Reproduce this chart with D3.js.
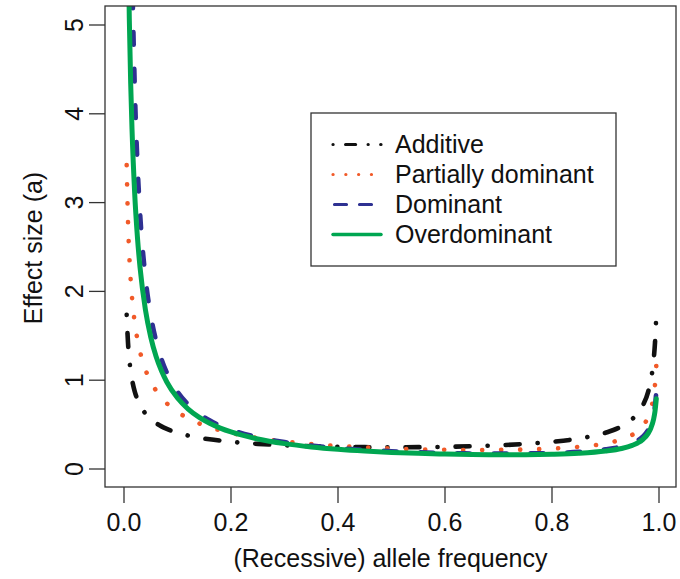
<!DOCTYPE html>
<html><head><meta charset="utf-8">
<script src="https://cdn.jsdelivr.net/npm/d3@7"></script>
<style>
body{margin:0;background:#fff}
svg{display:block}
text{font-family:"Liberation Sans",Arial,Helvetica,sans-serif;fill:#111}
</style>
</head><body><svg id="c" width="680" height="579"></svg>
<script>
// ---- data ----
const freq = [0.005,0.0075,0.01,0.0125,0.015,0.02,0.025,0.03,0.04,0.05,0.06,0.07,0.08,0.1,0.12,0.14,0.16,0.18,0.2,0.25,0.3,0.35,0.4,0.45,0.5,0.55,0.6,0.65,0.7,0.75,0.8,0.85,0.9,0.93,0.95,0.96,0.97,0.98,0.985,0.99,0.9925,0.995];
const additive = [1.736,1.420,1.231,1.102,1.008,0.875,0.785,0.718,0.625,0.562,0.516,0.480,0.451,0.408,0.377,0.353,0.334,0.319,0.306,0.283,0.267,0.257,0.250,0.246,0.245,0.246,0.250,0.257,0.267,0.283,0.306,0.343,0.408,0.480,0.562,0.625,0.718,0.875,1.008,1.231,1.420,1.736];
const partiallyDominant = [3.422,2.777,2.391,2.126,1.930,1.653,1.462,1.321,1.121,0.984,0.882,0.803,0.739,0.642,0.570,0.515,0.471,0.435,0.406,0.349,0.310,0.281,0.259,0.243,0.231,0.222,0.217,0.214,0.215,0.220,0.230,0.250,0.288,0.333,0.385,0.426,0.487,0.590,0.677,0.825,0.950,1.161];
const dominant = [17.32,11.55,8.661,6.929,5.774,4.331,3.465,2.888,2.167,1.734,1.446,1.240,1.086,0.870,0.727,0.625,0.548,0.489,0.442,0.358,0.303,0.264,0.236,0.216,0.200,0.189,0.180,0.175,0.173,0.175,0.180,0.193,0.221,0.253,0.292,0.322,0.367,0.444,0.510,0.620,0.714,0.872];
const overdominant = [7.790,6.077,5.047,4.342,3.824,3.102,2.618,2.268,1.794,1.485,1.267,1.106,0.980,0.799,0.675,0.584,0.515,0.461,0.417,0.338,0.286,0.249,0.222,0.202,0.187,0.176,0.168,0.162,0.160,0.161,0.166,0.177,0.202,0.231,0.266,0.293,0.334,0.404,0.464,0.564,0.649,0.792];
const seriesNames = ["Additive","Partially dominant","Dominant","Overdominant"];
const xTicks = [0,0.2,0.4,0.6,0.8,1.0];
const yTicks = [0,1,2,3,4,5];
const xTitle = "(Recessive) allele frequency";
const yTitle = "Effect size (a)";

// ---- styles ----
const styles = [
  {color:"#111111", dash:"0.1,18,14,18", w:4.6, ldash:"0.1,12.5,10,12.5"},
  {color:"#f15a29", dash:"0.1,18.9", w:4.6, ldash:"0.1,12.7"},
  {color:"#2e3192", dash:"12.7,24", w:4.6, ldash:"12,13"},
  {color:"#00a651", dash:null, w:5, ldash:null}
];
const seriesValues = [additive, partiallyDominant, dominant, overdominant];

const svg = d3.select("#c");
const box = {l:105, r:676, t:6, b:487};
const x = d3.scaleLinear().domain([0,1]).range([124,659]);
const y = d3.scaleLinear().domain([0,5]).range([469,25]);
const fs = 25;

svg.append("defs").append("clipPath").attr("id","clip")
  .append("rect").attr("x",box.l).attr("y",box.t).attr("width",box.r-box.l).attr("height",box.b-box.t);

// lines
const line = d3.line().x(d=>x(d[0])).y(d=>y(d[1])).curve(d3.curveMonotoneX);
const g = svg.append("g").attr("clip-path","url(#clip)");
seriesValues.forEach((vals,i)=>{
  const pts = freq.map((f,j)=>[f, vals[j]]);
  const p = g.append("path").attr("d", line(pts))
    .attr("fill","none").attr("stroke",styles[i].color)
    .attr("stroke-width",styles[i].w).attr("stroke-linecap","round").attr("stroke-linejoin","round");
  if (styles[i].dash) p.attr("stroke-dasharray", styles[i].dash);
});

// box
svg.append("rect").attr("x",box.l).attr("y",box.t).attr("width",box.r-box.l).attr("height",box.b-box.t)
  .attr("fill","none").attr("stroke","#333").attr("stroke-width",1.3);

// x axis
const xa = svg.append("g");
xTicks.forEach(t=>{
  xa.append("line").attr("x1",x(t)).attr("x2",x(t)).attr("y1",box.b).attr("y2",box.b+16).attr("stroke","#333").attr("stroke-width",1.3);
  xa.append("text").attr("x",x(t)).attr("y",531).attr("text-anchor","middle").attr("font-size",fs).text(d3.format(".1f")(t));
});
svg.append("text").attr("x",(box.l+box.r)/2).attr("y",567).attr("text-anchor","middle").attr("font-size",fs).text(xTitle);

// y axis
const ya = svg.append("g");
yTicks.forEach(t=>{
  ya.append("line").attr("x1",box.l-16).attr("x2",box.l).attr("y1",y(t)).attr("y2",y(t)).attr("stroke","#333").attr("stroke-width",1.3);
  ya.append("text").attr("transform",`translate(83,${y(t)}) rotate(-90)`).attr("text-anchor","middle").attr("font-size",fs).text(d3.format("d")(t));
});
svg.append("text").attr("transform",`translate(42,248) rotate(-90)`).attr("text-anchor","middle").attr("font-size",fs).text(yTitle);

// legend
const lg = svg.append("g");
lg.append("rect").attr("x",311).attr("y",113).attr("width",305).attr("height",153).attr("fill","#fff").attr("stroke","#333").attr("stroke-width",1.3);
seriesNames.forEach((n,i)=>{
  const by = 153 + i*30;
  const ly = by - 8.5;
  const x1 = i===2 ? 334.5 : 333;
  const l = lg.append("line").attr("x1",x1).attr("x2",381).attr("y1",ly).attr("y2",ly)
    .attr("stroke",styles[i].color).attr("stroke-width",i===3?3.5:3.2).attr("stroke-linecap","round");
  if (styles[i].ldash) l.attr("stroke-dasharray",styles[i].ldash);
  lg.append("text").attr("x",395).attr("y",by).attr("font-size",fs).text(n);
});
</script>
</body></html>
